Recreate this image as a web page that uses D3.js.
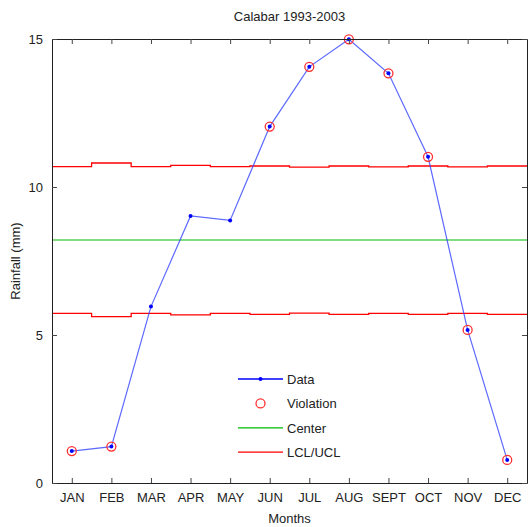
<!DOCTYPE html>
<html>
<head>
<meta charset="utf-8">
<script src="https://cdn.jsdelivr.net/npm/d3@7"></script>
<style>
  body { margin: 0; background: #fff; }
  text { font-family: "Liberation Sans", Arial, sans-serif; fill: #222; }
</style>
</head>
<body>
<svg id="SVG_CONTAINER" width="528" height="527"></svg>
<script>
const months = ["JAN","FEB","MAR","APR","MAY","JUN","JUL","AUG","SEPT","OCT","NOV","DEC"];
const rainfall = [1.08, 1.23, 5.96, 9.02, 8.87, 12.04, 14.06, 14.99, 13.84, 11.02, 5.17, 0.78];
const violation = [true, true, false, false, false, true, true, true, true, true, true, true];
const center = 8.21;
const ucl = [10.69, 10.81, 10.69, 10.73, 10.69, 10.71, 10.67, 10.71, 10.68, 10.71, 10.68, 10.71];
const lcl = [5.73, 5.62, 5.73, 5.68, 5.73, 5.70, 5.74, 5.70, 5.73, 5.70, 5.73, 5.70];
const yTicks = [0, 5, 10, 15];
const legendItems = ["Data", "Violation", "Center", "LCL/UCL"];

const MARGIN = { LEFT: 52, RIGHT: 1, TOP: 39, BOTTOM: 44 };
const width = 528, height = 527;

const svg = d3.select("#SVG_CONTAINER");

const xScale = d3.scaleLinear()
    .domain([0.5, 12.5])
    .range([MARGIN.LEFT, width - MARGIN.RIGHT]);

const yScale = d3.scaleLinear()
    .domain([0, 15])
    .range([height - MARGIN.BOTTOM, MARGIN.TOP]);

const idx = d3.range(1, 13);

// control limits drawn as stairs
function stairs(vals) {
    const pts = vals.map((v, i) => [i + 1, v]);
    pts.unshift([0.5, vals[0]]);
    pts.push([12.5, vals[vals.length - 1]]);
    return pts;
}
const stepLine = d3.line()
    .x(d => xScale(d[0]))
    .y(d => yScale(d[1]))
    .curve(d3.curveStep);

svg.append("path")
    .attr("d", stepLine(stairs(ucl)))
    .attr("fill", "none").attr("stroke", "#ff0000").attr("stroke-width", 1.3);
svg.append("path")
    .attr("d", stepLine(stairs(lcl)))
    .attr("fill", "none").attr("stroke", "#ff0000").attr("stroke-width", 1.3);
svg.append("line")
    .attr("x1", xScale(0.5)).attr("x2", xScale(12.5))
    .attr("y1", yScale(center)).attr("y2", yScale(center))
    .attr("stroke", "#00bb00").attr("stroke-width", 1.2);

// data line
const dataLine = d3.line()
    .x((d, i) => xScale(i + 1))
    .y(d => yScale(d));
svg.append("path")
    .attr("d", dataLine(rainfall))
    .attr("fill", "none").attr("stroke", "#3344ff").attr("stroke-width", 1.2)
    .attr("opacity", 0.8);

svg.selectAll(".viol")
    .data(rainfall.filter((d, i) => violation[i]).map((d, j) => ({ v: d, i: rainfall.indexOf(d) })))
    .enter().append("circle")
    .attr("class", "viol")
    .attr("cx", d => xScale(d.i + 1))
    .attr("cy", d => yScale(d.v))
    .attr("r", 4.5)
    .attr("fill", "none").attr("stroke", "#ff3030").attr("stroke-width", 1.3);

svg.selectAll(".dot")
    .data(rainfall)
    .enter().append("circle")
    .attr("class", "dot")
    .attr("cx", (d, i) => xScale(i + 1))
    .attr("cy", d => yScale(d))
    .attr("r", 2)
    .attr("fill", "#0000ff");

// axes (box with inward ticks)
const axisStyle = g => {
    g.select(".domain").attr("stroke", "#222");
    g.selectAll(".tick line").attr("stroke", "#444");
    g.selectAll("text").style("font-size", "13px").attr("fill", "#222");
};

svg.append("g")
    .attr("transform", "translate(0," + (height - MARGIN.BOTTOM) + ")")
    .call(d3.axisBottom(xScale).tickValues(idx).tickFormat(d => months[d - 1])
        .tickSizeInner(-5).tickSizeOuter(0).tickPadding(10))
    .call(axisStyle);

svg.append("g")
    .attr("transform", "translate(0," + MARGIN.TOP + ")")
    .call(d3.axisTop(xScale).tickValues(idx).tickFormat("")
        .tickSizeInner(-5).tickSizeOuter(0))
    .call(axisStyle);

svg.append("g")
    .attr("transform", "translate(" + MARGIN.LEFT + ",0)")
    .call(d3.axisLeft(yScale).tickValues(yTicks)
        .tickSizeInner(-5).tickSizeOuter(0).tickPadding(9))
    .call(axisStyle);

svg.append("g")
    .attr("transform", "translate(" + (width - MARGIN.RIGHT) + ",0)")
    .call(d3.axisRight(yScale).tickValues(yTicks).tickFormat("")
        .tickSizeInner(-5).tickSizeOuter(0))
    .call(axisStyle);

// titles
svg.append("text")
    .attr("x", xScale(6.5)).attr("y", 21)
    .attr("text-anchor", "middle")
    .style("font-size", "13px")
    .text("Calabar 1993-2003");

svg.append("text")
    .attr("x", xScale(6.5)).attr("y", 523)
    .attr("text-anchor", "middle")
    .style("font-size", "13px")
    .text("Months");

svg.append("text")
    .attr("transform", "translate(20," + yScale(7.5) + ") rotate(-90)")
    .attr("text-anchor", "middle")
    .style("font-size", "13px")
    .text("Rainfall (mm)");

// legend (no box)
const legend = svg.append("g").attr("transform", "translate(238,379)");
const rowH = 24.4;
legendItems.forEach((name, i) => {
    const g = legend.append("g").attr("transform", "translate(0," + (i * rowH) + ")");
    if (i === 0) {
        g.append("line").attr("x1", 0).attr("x2", 45).attr("stroke", "#0000ff").attr("stroke-width", 1.3);
        g.append("circle").attr("cx", 22.5).attr("r", 2).attr("fill", "#0000ff");
    } else if (i === 1) {
        g.append("circle").attr("cx", 22.5).attr("r", 4.5)
            .attr("fill", "none").attr("stroke", "#ff3030").attr("stroke-width", 1.3);
    } else {
        g.append("line").attr("x1", 0).attr("x2", 45)
            .attr("stroke", i === 2 ? "#00bb00" : "#ff0000").attr("stroke-width", 1.3);
    }
    g.append("text").attr("x", 49).attr("y", 5)
        .style("font-size", "13px")
        .text(name);
});
</script>
</body>
</html>
